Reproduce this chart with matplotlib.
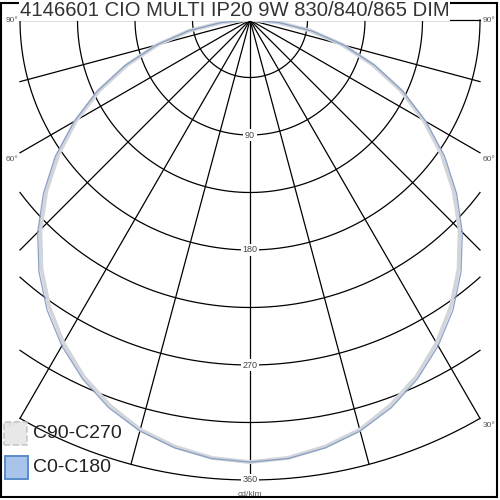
import numpy as np
import matplotlib.pyplot as plt
from matplotlib.patches import Rectangle

title = "4146601 CIO MULTI IP20 9W 830/840/865 DIM"
unit = "cd/klm"

# luminous intensity (cd/klm) vs gamma angle, symmetric planes
gammas = [0, 5, 10, 15, 20, 25, 30, 35, 40, 45, 50, 55, 60, 65, 70, 75, 80, 85, 90]
c0_c180 = [346, 344.5, 340, 333, 323, 310, 294.5, 277, 257, 235, 211, 186, 159, 132, 104, 76, 49, 22.5, 3]
c90_c270 = [346, 344, 339, 332, 321, 308, 292, 274, 254, 232, 208, 183, 157, 130, 102, 75, 48, 22, 3]

ring_values = [45, 90, 135, 180, 225, 270, 315, 360]
ring_labels = [90, 180, 270, 360]
ray_angles = [15, 30, 45, 60, 75, 90]
side_labels = [30, 60, 90]
legend_labels = ["C90-C270", "C0-C180"]

rmax = 360
half_w = 180  # grid is clipped to |x| <= 180
k = 460 / 360  # pixels per cd/klm

fig = plt.figure(figsize=(5, 5), dpi=100)
ax = fig.add_axes([0, 0, 1, 1])
ax.set_xlim(-250 / k, 250 / k)
ax.set_ylim(-480 / k, 20 / k)
ax.axis("off")


def mirror(vals):
    g = np.radians(np.array(gammas, dtype=float))
    v = np.array(vals, dtype=float)
    g = np.concatenate([-g[::-1], g[1:]])
    v = np.concatenate([v[::-1], v[1:]])
    return v * np.sin(g), -v * np.cos(g)


# rings
for r in ring_values:
    tmax = np.arcsin(min(1.0, half_w / r))
    t = np.linspace(-tmax, tmax, 300)
    ax.plot(r * np.sin(t), -r * np.cos(t), color="black", lw=0.9, zorder=2)

# rays
ax.plot([0, 0], [0, -rmax], color="black", lw=0.9, zorder=2)
for a in ray_angles:
    t = np.radians(a)
    rend = min(rmax, half_w / np.sin(t))
    for s in (-1, 1):
        ax.plot([0, s * rend * np.sin(t)], [0, -rend * np.cos(t)],
                color="black", lw=0.9, zorder=2)

# side angle labels
for a in side_labels:
    t = np.radians(a)
    y = -half_w / np.tan(t) - 5.5 if a < 90 else 0
    ax.text(-half_w - 1, y, "%d°" % a, ha="right", va="center",
            fontsize=6, color="#555555", family="Liberation Sans")
    ax.text(half_w + 2, y, "%d°" % a, ha="left", va="center",
            fontsize=6, color="#555555", family="Liberation Sans")

# ring labels
for r in ring_labels:
    ax.text(0, -r, str(r), ha="center", va="center", fontsize=6.5,
            color="#444444", family="Liberation Sans", zorder=4,
            bbox=dict(facecolor="white", edgecolor="none", pad=1.2))
ax.text(0, -rmax - 11, unit, ha="center", va="center", fontsize=6,
        color="#555555", family="Liberation Sans", zorder=4)

# curves
x90, y90 = mirror(c90_c270)
x0, y0 = mirror(c0_c180)
ax.plot(x90, y90, color="#d2d5da", lw=2.8, zorder=3, solid_joinstyle="round")
ax.plot(x0, y0, color="#7f98c2", lw=0.9, zorder=3, alpha=0.9,
        solid_joinstyle="round")

# legend
ax.add_patch(Rectangle((4 / k - 250 / k, -445 / k + 20 / k), 23 / k, 23 / k,
                       facecolor="#e6e6e6", edgecolor="#c4c4c4", lw=1.2,
                       ls="--", zorder=5, alpha=0.9))
ax.add_patch(Rectangle((5 / k - 250 / k, -479 / k + 20 / k), 23 / k, 23 / k,
                       facecolor="#a9c4ea", edgecolor="#5b8bcb", lw=1.4,
                       zorder=5))
ax.text(33 / k - 250 / k, -434 / k + 20 / k, legend_labels[0], ha="left",
        va="center", fontsize=14, color="#222222", family="Liberation Sans",
        zorder=6)
ax.text(33 / k - 250 / k, -467 / k + 20 / k, legend_labels[1], ha="left",
        va="center", fontsize=14, color="#222222", family="Liberation Sans",
        zorder=6)

# frame and title
fig.patches.append(Rectangle((1 / 500, 3 / 500), 496 / 500, 494 / 500,
                             transform=fig.transFigure, fill=False,
                             edgecolor="black", lw=1.5))
fig.text(20 / 500, 1 - 1 / 500, title, ha="left", va="top", fontsize=14.6,
         color="#333333", family="Liberation Sans",
         bbox=dict(facecolor="white", edgecolor="none", pad=0.5))

fig.savefig("out.png", dpi=100)
